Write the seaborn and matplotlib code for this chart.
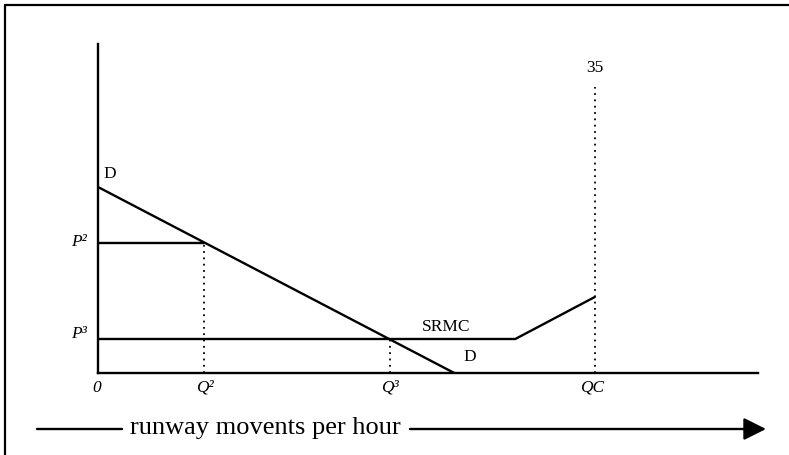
import numpy as np
import pandas as pd
import matplotlib.pyplot as plt
from matplotlib.lines import Line2D
import seaborn as sns

# schematic values (x: runway movements per hour, y: price)
demand_q = [0, 25.1]
demand_p = [18.6, 0]
srmc_q = [0, 29.4, 35]
srmc_p = [3.4, 3.4, 7.6]
q2, p2 = 7.5, 13.0
q3, p3 = 20.6, 3.4
qc, qc_top = 35, 28.6
x_max, y_max = 46.5, 32.9

sns.set_style("white")
plt.rcParams['font.family'] = ['Liberation Serif', 'DejaVu Serif']
plt.rcParams['text.color'] = 'black'

fig = plt.figure(figsize=(7.89, 4.56), dpi=100)
ax = fig.add_axes([98 / 789, 82 / 456, 660 / 789, 329 / 456])

dem = pd.DataFrame({'q': demand_q, 'p': demand_p})
srmc = pd.DataFrame({'q': srmc_q, 'p': srmc_p})
sns.lineplot(data=dem, x='q', y='p', ax=ax, color='black', lw=1.7,
             estimator=None, sort=False)
sns.lineplot(data=srmc, x='q', y='p', ax=ax, color='black', lw=1.7,
             estimator=None, sort=False)

# price level for P2
ax.hlines(p2, 0, q2, color='black', lw=1.7)
# dotted guides
ax.vlines([q2], 0, p2, color='black', lw=1.3, linestyles=(0, (1, 2.5)))
ax.vlines([q3], 0, p3, color='black', lw=1.3, linestyles=(0, (1, 2.5)))
ax.vlines([qc], 0, qc_top, color='black', lw=1.3, linestyles=(0, (1, 2.5)))

ax.set_xlim(0, x_max)
ax.set_ylim(0, y_max)
ax.set_xticks([])
ax.set_yticks([])
ax.set_xlabel('')
ax.set_ylabel('')
for s in ['top', 'right']:
    ax.spines[s].set_visible(False)
for s in ['left', 'bottom']:
    ax.spines[s].set_color('black')
    ax.spines[s].set_linewidth(1.7)

fs = 12.5
ax.text(0.35, demand_p[0] + 0.6, 'D', fontsize=fs, ha='left', va='bottom')
ax.text(-0.75, p2 + 0.2, 'P²', fontsize=fs, style='italic', ha='right', va='center')
ax.text(-0.75, p3 + 0.6, 'P³', fontsize=fs, style='italic', ha='right', va='center')
ax.text(-0.1, -1.4, '0', fontsize=fs, style='italic', ha='center', va='center')
ax.text(q2, -1.4, 'Q²', fontsize=fs, style='italic', ha='center', va='center')
ax.text(q3, -1.4, 'Q³', fontsize=fs, style='italic', ha='center', va='center')
ax.text(qc - 0.2, -1.4, 'QC', fontsize=fs, style='italic', ha='center', va='center')
ax.text(24.5, p3 + 1.3, 'SRMC', fontsize=fs, ha='center', va='center')
ax.text(26.2, 1.7, 'D', fontsize=fs, ha='center', va='center')
ax.text(qc, qc_top + 2.0, '35', fontsize=fs, ha='center', va='center')

# bottom caption with arrow
yb = 26 / 456
fig.add_artist(Line2D([37 / 789, 122 / 789], [yb, yb], color='black', lw=1.7))
fig.text(265 / 789, yb + 0.004, 'runway movents per hour', fontsize=19,
         ha='center', va='center')
ax.annotate('', xy=(766 / 789, yb), xytext=(410 / 789, yb),
            xycoords='figure fraction', textcoords='figure fraction',
            arrowprops=dict(arrowstyle='-|>', color='black', lw=1.7,
                            mutation_scale=34, shrinkA=0, shrinkB=0))

# frame
fig.add_artist(Line2D([5 / 789, 5 / 789], [0, 1 - 6 / 456], color='black', lw=1.6))
fig.add_artist(Line2D([5 / 789, 1], [1 - 6 / 456, 1 - 6 / 456], color='black', lw=1.6))

fig.savefig('out.png', dpi=100, facecolor='white')
